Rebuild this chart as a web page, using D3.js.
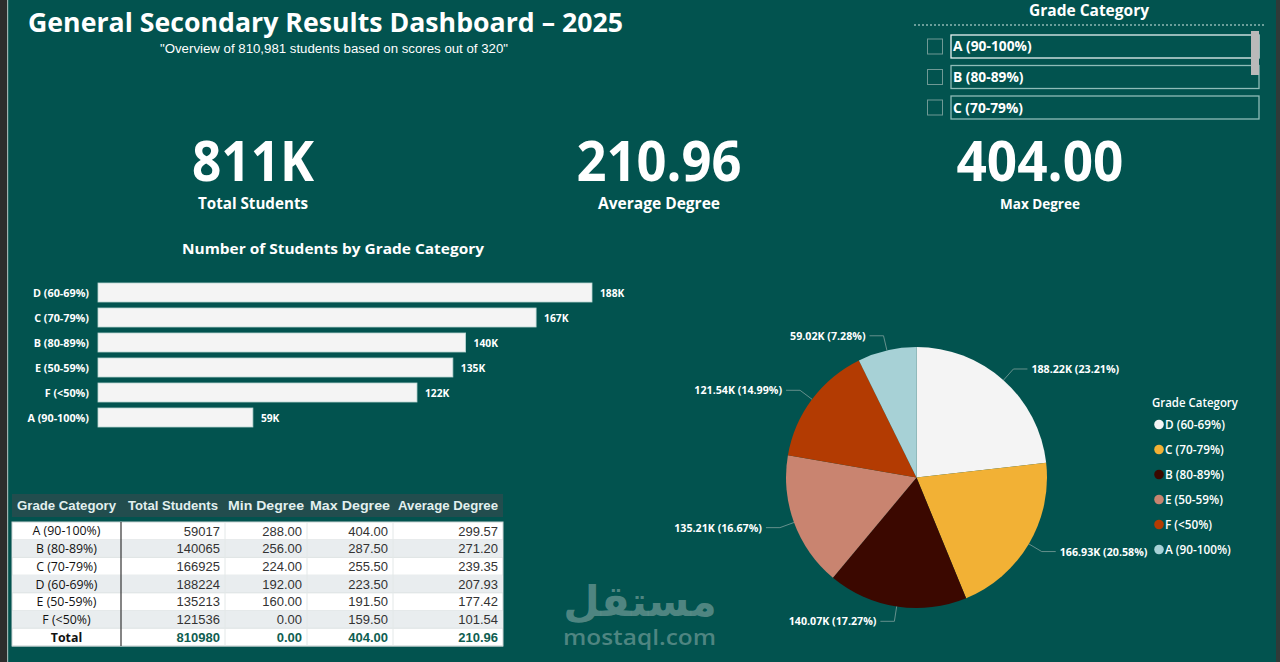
<!DOCTYPE html>
<html><head><meta charset="utf-8">
<script src="https://cdn.jsdelivr.net/npm/d3@7"></script>
<style>
html,body{margin:0;padding:0;background:#02534f;overflow:hidden}
svg{display:block}
</style></head>
<body>
<svg id="c" width="1280" height="662"></svg>
<script>
// ---------- DATA ----------
const barCategories = ["D (60-69%)","C (70-79%)","B (80-89%)","E (50-59%)","F (<50%)","A (90-100%)"];
const barValues     = [188224,166925,140065,135213,121536,59017];

const tableCategories = ["A (90-100%)","B (80-89%)","C (70-79%)","D (60-69%)","E (50-59%)","F (<50%)"];
const tableTotals   = [59017,140065,166925,188224,135213,121536];
const tableMin      = [288.00,256.00,224.00,192.00,160.00,0.00];
const tableMax      = [404.00,287.50,255.50,223.50,191.50,159.50];
const tableAvg      = [299.57,271.20,239.35,207.93,177.42,101.54];
const tableHeaders  = ["Grade Category","Total Students","Min Degree","Max Degree","Average Degree"];
const tableTotalRow = ["Total",810980,0.00,404.00,210.96];

const pieCategories = ["D (60-69%)","C (70-79%)","B (80-89%)","E (50-59%)","F (<50%)","A (90-100%)"];
const pieValues     = [188224,166925,140065,135213,121536,59017];
const pieColors     = ["#f4f4f4","#f2b135","#3b0800","#c98470","#b33b02","#a7d1d6"];

const slicerItems   = ["A (90-100%)","B (80-89%)","C (70-79%)"];
const kpiValues     = [810980, 210.96, 404.00];
const kpiLabels     = ["Total Students","Average Degree","Max Degree"];

// ---------- HELPERS ----------
const svg = d3.select("#c");
const SEG = "'Open Sans', 'Noto Sans', sans-serif";
const ARIAL = "'Liberation Sans', Arial, sans-serif";
function fitW(sel, w){ sel.attr("textLength", w).attr("lengthAdjust","spacingAndGlyphs"); return sel; }
function condense(sel, f){ sel.each(function(){ const l=this.getComputedTextLength(); this.setAttribute("textLength", l*f); this.setAttribute("lengthAdjust","spacingAndGlyphs"); }); return sel; }
const fix2 = v => (Math.round(v*100)/100).toFixed(2);

// background + frame
svg.append("rect").attr("width",1280).attr("height",662).attr("fill","#02534f");
svg.append("rect").attr("x",0).attr("y",0).attr("width",7).attr("height",662).attr("fill","#2d2d2d");
svg.append("rect").attr("x",7).attr("y",0).attr("width",1.2).attr("height",662).attr("fill","#9fb3b1");
svg.append("rect").attr("x",1276).attr("y",0).attr("width",4).attr("height",662).attr("fill","#2f3a38");

// ---------- TITLE ----------
fitW(svg.append("text").attr("x",28).attr("y",32).attr("font-family",SEG).attr("font-weight",700)
  .attr("font-size",27).attr("fill","#ffffff").text("General Secondary Results Dashboard – 2025"), 595);
fitW(svg.append("text").attr("x",160).attr("y",53).attr("font-family",ARIAL)
  .attr("font-size",12.5).attr("fill","#ffffff").text("\"Overview of 810,981 students based on scores out of 320\""), 348);

// ---------- SLICER ----------
fitW(svg.append("text").attr("x",1029).attr("y",16).attr("font-family",SEG).attr("font-weight",700)
  .attr("font-size",16).attr("fill","#ffffff").text("Grade Category"), 120);
svg.append("line").attr("x1",914).attr("x2",1264).attr("y1",25).attr("y2",25)
  .attr("stroke","#8fb8b4").attr("stroke-width",1.3).attr("stroke-dasharray","2,2");
const sy = d3.scaleBand().domain(slicerItems).range([35,119]).paddingInner(0.246).paddingOuter(0);
const sg = svg.append("g");
slicerItems.forEach((s,i)=>{
  const y = sy(s), h = sy.bandwidth();
  sg.append("rect").attr("x",927.5).attr("y",y+h/2-7.5).attr("width",15).attr("height",15)
    .attr("fill","none").attr("stroke","#6f9995").attr("stroke-width",1);
  sg.append("rect").attr("x",951).attr("y",y).attr("width",308).attr("height",h)
    .attr("fill","none").attr("stroke", i===0?"#e8f2f1":"#8fbcb8").attr("stroke-width",1.3);
  condense(sg.append("text").attr("x",953).attr("y",y+h/2+5).attr("font-family",SEG).attr("font-weight",700)
    .attr("font-size",13.5).attr("fill","#ffffff").text(s), 1.02);
});
svg.append("rect").attr("x",1251).attr("y",31).attr("width",8).attr("height",44).attr("fill","#b9b9b9");

// ---------- KPIs ----------
const kpiX = [253, 659, 1040];
const kpiFmt = [v=>Math.round(v/1000)+"K", v=>v.toFixed(2), v=>v.toFixed(2)];
const kpiW = [122,165,167];
const kpiLW = [110,122,80];
const kpiLS = [16,16,14];
kpiValues.forEach((v,i)=>{
  fitW(svg.append("text").attr("x",kpiX[i]).attr("y",181).attr("text-anchor","middle")
    .attr("font-family",SEG).attr("font-weight",700).attr("font-size",56).attr("fill","#ffffff")
    .text(kpiFmt[i](v)), kpiW[i]);
  fitW(svg.append("text").attr("x",kpiX[i]).attr("y",209).attr("text-anchor","middle")
    .attr("font-family",SEG).attr("font-weight",700).attr("font-size",kpiLS[i]).attr("fill","#ffffff")
    .text(kpiLabels[i]), kpiLW[i]);
});

// ---------- BAR CHART ----------
fitW(svg.append("text").attr("x",182).attr("y",254).attr("font-family",SEG).attr("font-weight",700)
  .attr("font-size",15).attr("fill","#ffffff").text("Number of Students by Grade Category"), 302);
const x = d3.scaleLinear().domain([0, d3.max(barValues)]).range([98, 592]);
const y = d3.scaleBand().domain(barCategories).range([277, 433]).padding(0.24);
const bars = svg.append("g");
barCategories.forEach((c,i)=>{
  bars.append("rect").attr("x",x(0)).attr("y",y(c)).attr("width",x(barValues[i])-x(0)).attr("height",y.bandwidth())
    .attr("fill","#f4f4f4").attr("stroke","#b9d6d3").attr("stroke-width",0.8);
  condense(bars.append("text").attr("x",89).attr("y",y(c)+y.bandwidth()/2+4).attr("text-anchor","end")
    .attr("font-family",SEG).attr("font-weight",700).attr("font-size",11).attr("fill","#ffffff").text(c), 0.98);
  condense(bars.append("text").attr("x",x(barValues[i])+8).attr("y",y(c)+y.bandwidth()/2+4)
    .attr("font-family",SEG).attr("font-weight",700).attr("font-size",11).attr("fill","#ffffff")
    .text(Math.round(barValues[i]/1000)+"K"), 0.93);
});

// ---------- TABLE ----------
const colEdges = [12,121,225,307,393,503];
const tg = svg.append("g");
tg.append("rect").attr("x",12).attr("y",494).attr("width",491).attr("height",23).attr("fill","#224d4e");
tableHeaders.forEach((h,i)=>{
  fitW(tg.append("text").attr("x",(colEdges[i]+colEdges[i+1])/2).attr("y",510).attr("text-anchor","middle")
    .attr("font-family",ARIAL).attr("font-weight",700).attr("font-size",13).attr("fill","#e3f0ef").text(h),
    [99,90,76,80,100][i]);
});
const rows = tableCategories.map((c,i)=>[c,tableTotals[i],tableMin[i],tableMax[i],tableAvg[i]]);
rows.push(tableTotalRow);
const ry = d3.scaleBand().domain(d3.range(rows.length)).range([522,646]);
tg.append("rect").attr("x",12).attr("y",522).attr("width",491).attr("height",124).attr("fill","#ffffff")
  .attr("stroke","#c9d3d3").attr("stroke-width",1);
rows.forEach((r,ri)=>{
  const yy = ry(ri), h = ry.bandwidth();
  if(ri%2===1) tg.append("rect").attr("x",12.5).attr("y",yy).attr("width",490).attr("height",h).attr("fill","#e9edef");
  tg.append("line").attr("x1",12).attr("x2",503).attr("y1",yy+h).attr("y2",yy+h).attr("stroke","#d8dfe0").attr("stroke-width",0.8);
  const isTot = ri===rows.length-1;
  r.forEach((v,ci)=>{
    if(ci===0){
      condense(tg.append("text").attr("x",(colEdges[0]+colEdges[1])/2).attr("y",yy+h/2+4.5).attr("text-anchor","middle")
        .attr("font-family",SEG).attr("font-size",13).attr("font-weight",isTot?700:500)
        .attr("fill","#111").text(v), 0.95);
    } else {
      const s = ci===1 ? String(v) : fix2(v);
      tg.append("text").attr("x",colEdges[ci+1]-5).attr("y",yy+h/2+4.7).attr("text-anchor","end")
        .attr("font-family",ARIAL).attr("font-size",13).attr("font-weight",isTot?700:400)
        .attr("fill",isTot?"#0f5e51":"#333333").text(s);
    }
  });
});
colEdges.slice(2,5).forEach(e=>tg.append("line").attr("x1",e).attr("x2",e).attr("y1",522).attr("y2",646).attr("stroke","#e3e8e8").attr("stroke-width",1));
tg.append("line").attr("x1",121).attr("x2",121).attr("y1",522).attr("y2",646).attr("stroke","#333").attr("stroke-width",1.2);

// ---------- PIE ----------
const cx = 916.5, cy = 477.5, R = 130.5;
const total = d3.sum(pieValues);
const pie = d3.pie().sort(null).value(d=>d.v);
const arcs = pie(pieCategories.map((c,i)=>({c, v:pieValues[i], col:pieColors[i]})));
const arc = d3.arc().innerRadius(0).outerRadius(R);
const pg = svg.append("g").attr("transform",`translate(${cx},${cy})`);
pg.selectAll("path").data(arcs).join("path").attr("d",arc).attr("fill",d=>d.data.col);
arcs.forEach(a=>{
  const m = (a.startAngle+a.endAngle)/2;
  const p0 = [Math.sin(m)*R, -Math.cos(m)*R];
  const p1 = [Math.sin(m)*(R+15), -Math.cos(m)*(R+15)];
  const right = Math.sin(m) >= 0;
  const p2 = [p1[0] + (right?14:-14), p1[1]];
  pg.append("polyline").attr("points",[p0,p1,p2].map(p=>p.join(",")).join(" "))
    .attr("fill","none").attr("stroke","#7f9f9c").attr("stroke-width",0.8);
  const lbl = (Math.round(a.data.v/10)/100).toFixed(2)+"K ("+fix2(a.data.v/total*100)+"%)";
  condense(pg.append("text").attr("x",p2[0]+(right?4:-4)).attr("y",p2[1]+4)
    .attr("text-anchor",right?"start":"end").attr("font-family",SEG).attr("font-weight",700)
    .attr("font-size",11).attr("fill","#ffffff").text(lbl), 0.97);
});

// pie legend
condense(svg.append("text").attr("x",1152).attr("y",407).attr("font-family",SEG).attr("font-weight",600)
  .attr("font-size",12.5).attr("fill","#ffffff").text("Grade Category"), 0.915);
const ly = d3.scaleBand().domain(pieCategories).range([412,562]);
pieCategories.forEach((c,i)=>{
  const yy = ly(c)+ly.bandwidth()/2;
  svg.append("circle").attr("cx",1159).attr("cy",yy).attr("r",4.8).attr("fill",pieColors[i]);
  condense(svg.append("text").attr("x",1165).attr("y",yy+4.3).attr("font-family",SEG).attr("font-weight",600)
    .attr("font-size",12.5).attr("fill","#ffffff").text(c), 0.94);
});

// watermark
svg.append("text").attr("x",640).attr("y",616).attr("text-anchor","middle").attr("font-family","'DejaVu Sans', sans-serif")
  .attr("font-weight",700).attr("font-size",42).attr("fill","#5e8f8b").attr("fill-opacity",0.85).text("مستقل");
fitW(svg.append("text").attr("x",563).attr("y",645).attr("font-family",SEG)
  .attr("font-weight",600).attr("font-size",22).attr("fill","#5e8f8b").attr("fill-opacity",0.85).text("mostaql.com"), 153);
</script>
</body></html>
